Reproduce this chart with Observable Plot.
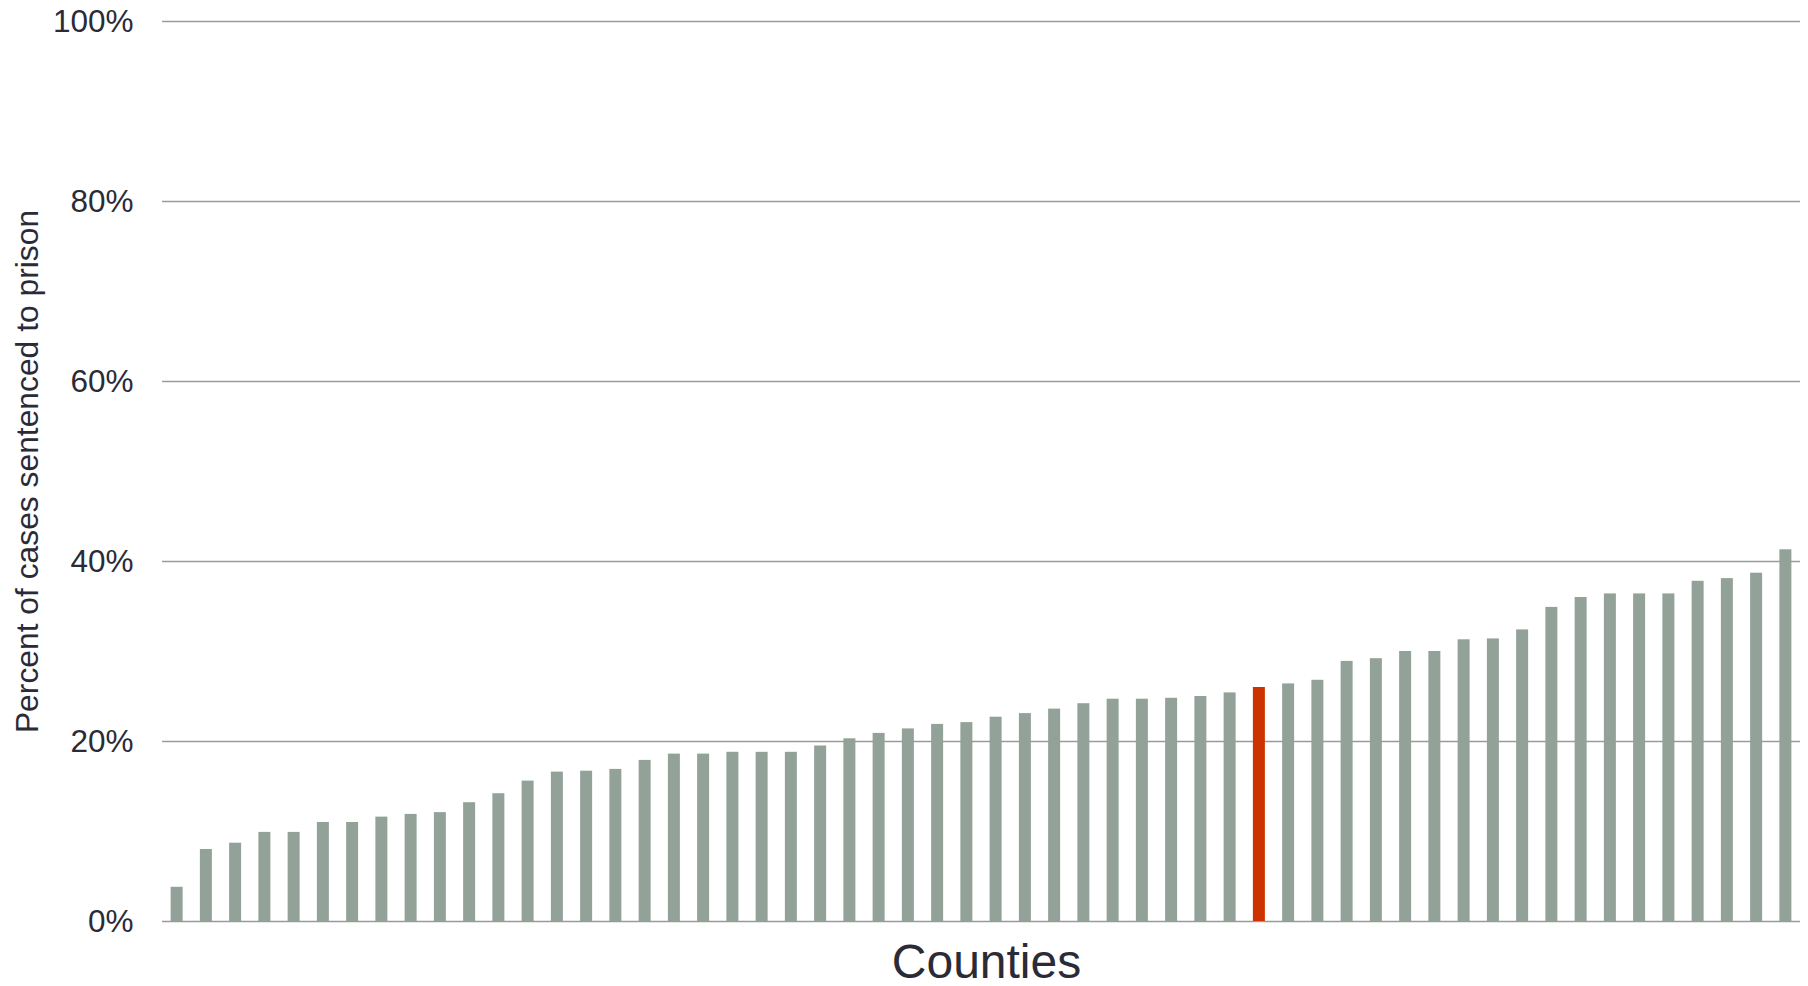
<!DOCTYPE html>
<html>
<head>
<meta charset="utf-8">
<script src="https://cdn.jsdelivr.net/npm/d3@7"></script>
<script src="https://cdn.jsdelivr.net/npm/@observablehq/plot@0.6"></script>
<style>
  html, body { margin: 0; padding: 0; background: #fff; }
  #chart svg { display: block; }
</style>
</head>
<body>
<div id="chart"></div>
<script>
// Percent of cases sentenced to prison, by county (sorted ascending)
const values = [
  3.8, 8.0, 8.7, 9.9, 9.9, 11.0, 11.0, 11.6, 11.9, 12.1,
  13.2, 14.2, 15.6, 16.6, 16.7, 16.9, 17.9, 18.6, 18.6, 18.8,
  18.8, 18.8, 19.5, 20.3, 20.9, 21.4, 21.9, 22.1, 22.7, 23.1,
  23.6, 24.2, 24.7, 24.7, 24.8, 25.0, 25.4, 26.0, 26.4, 26.8,
  28.9, 29.2, 30.0, 30.0, 31.3, 31.4, 32.4, 34.9, 36.0, 36.4,
  36.4, 36.4, 37.8, 38.1, 38.7, 41.3
];
const highlightIndex = 37; // the red county
const yTicks = [0, 20, 40, 60, 80, 100];
const yLabel = "Percent of cases sentenced to prison";
const xLabel = "Counties";

const grey = "#93a298";
const red = "#cc3300";
const textColor = "#2b2b38";

const data = values.map((v, i) => ({
  county: i + 1,
  value: v / 100,
  fill: i === highlightIndex ? red : grey
}));

const chart = Plot.plot({
  width: 1808,
  height: 986,
  marginLeft: 162,
  marginRight: 8,
  marginTop: 21,
  marginBottom: 65,
  style: {
    fontFamily: "'Liberation Sans', Arial, sans-serif",
    background: "#fff",
    color: textColor
  },
  x: { type: "band", domain: data.map(d => d.county), paddingInner: 0.59, paddingOuter: 0.295, round: false, axis: null },
  y: { domain: [0, 1], axis: null },
  color: { type: "identity" },
  marks: [
    Plot.gridY(yTicks.map(t => t / 100), { stroke: "#9a9a9a", strokeOpacity: 1, strokeWidth: 1.5 }),
    Plot.axisY(yTicks.map(t => t / 100), {
      tickSize: 0,
      tickPadding: 29,
      fontSize: 31.5,
      tickFormat: d => Math.round(d * 100) + "%",
      label: null,
      fill: textColor
    }),
    Plot.barY(data, { x: "county", y: "value", fill: "fill" }),
    Plot.text([xLabel], {
      text: d => d,
      frameAnchor: "bottom",
      dx: 5,
      dy: 56,
      fontSize: 48,
      fill: textColor
    }),
    Plot.text([yLabel], {
      text: d => d,
      frameAnchor: "left",
      textAnchor: "middle",
      rotate: -90,
      dx: -135,
      fontSize: 31.8,
      fill: textColor
    })
  ]
});

document.getElementById("chart").appendChild(chart);
</script>
</body>
</html>
